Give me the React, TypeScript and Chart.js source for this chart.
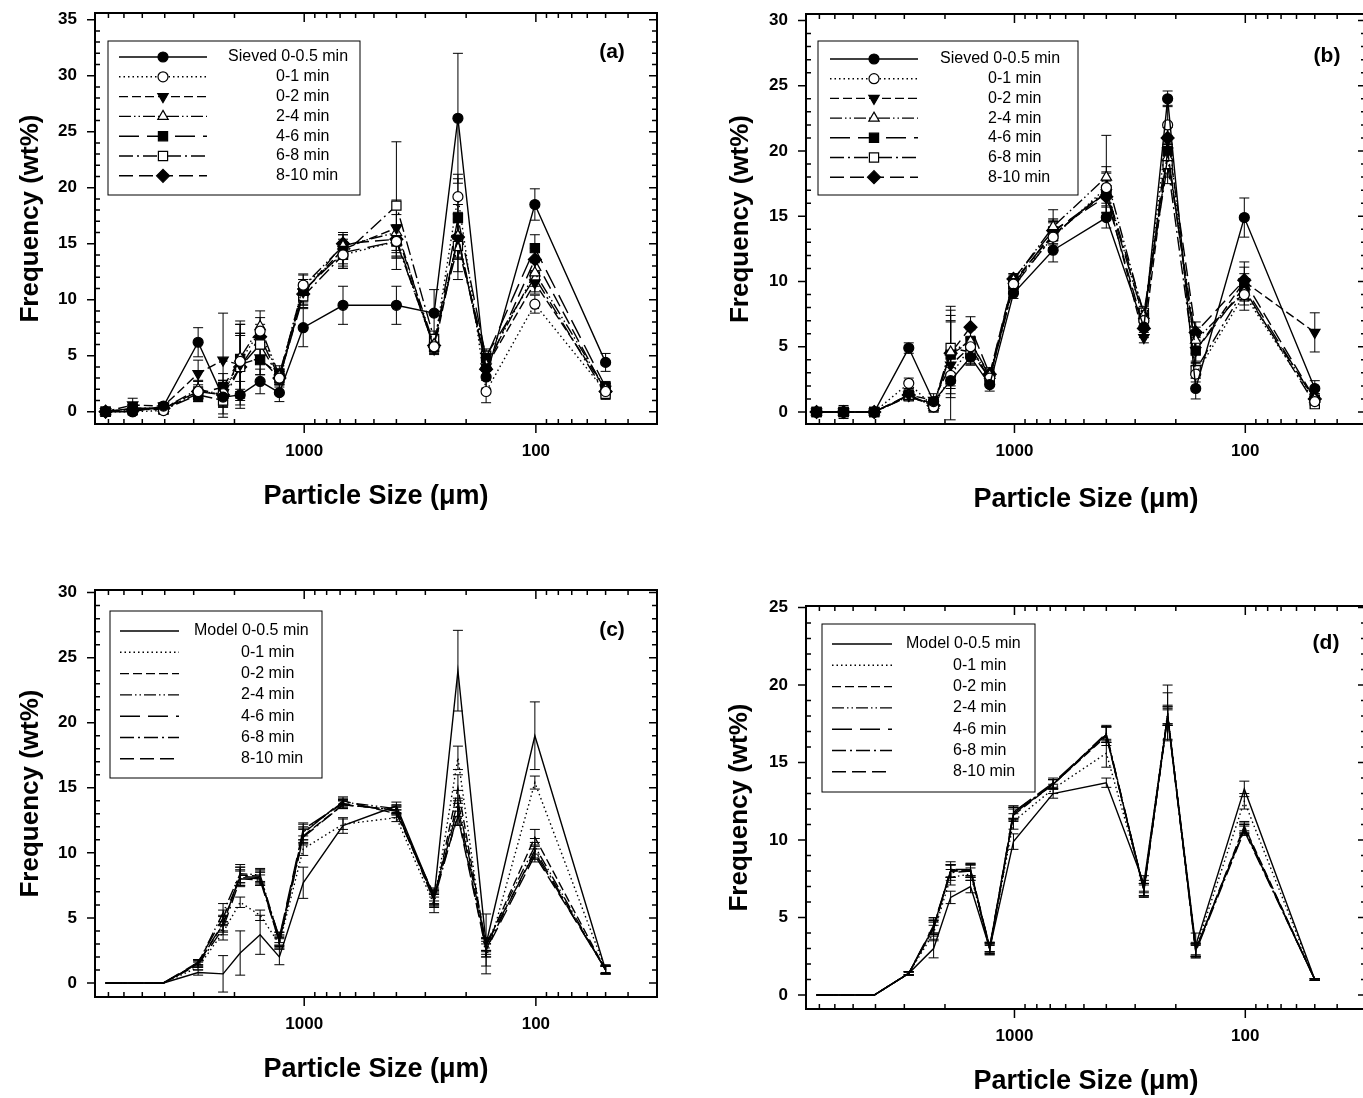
import React, { useEffect, useRef } from 'react';
import { Chart, registerables } from 'chart.js';
import { drawPoint } from 'chart.js/helpers';

Chart.register(...registerables);

const FONT = '"Liberation Sans", Arial, Helvetica, sans-serif';

// Particle sizes (µm) of the sieve fractions, x axis (log, reversed)
const SIZES = [7200, 5500, 4050, 2870, 2240, 1890, 1550, 1280, 1010, 680, 400, 275, 217, 164, 101, 50];
const X_MIN = 30;
const X_MAX = 8000;
const X_TICK_VALUES = [1000, 100];

const SERIES_LABELS = ['0-0.5 min', '0-1 min', '0-2 min', '2-4 min', '4-6 min', '6-8 min', '8-10 min'];

// Panel (a) – sieved, wt%
const A_05 = [0, 0, 0.5, 6.2, 1.3, 1.5, 2.7, 1.7, 7.5, 9.5, 9.5, 8.8, 26.2, 3.1, 18.5, 4.4];
const A_05_E = [0.1, 0.2, 0.3, 1.3, 1.5, 1.2, 1.1, 0.8, 1.7, 1.7, 1.7, 2.1, 5.8, 1.0, 1.4, 0.8];
const A_01 = [0, 0, 0.1, 1.8, 1.6, 4.5, 7.2, 3.0, 11.3, 14.0, 15.2, 5.8, 19.2, 1.8, 9.6, 1.8];
const A_01_E = [0.1, 0.3, 0.3, 0.9, 1.2, 2.5, 1.2, 0.8, 1.0, 1.2, 1.5, 0.6, 2.0, 1.0, 0.8, 0.5];
const A_02 = [0, 0.6, 0.5, 3.4, 4.6, 4.2, 4.8, 3.0, 10.7, 14.5, 16.4, 5.6, 15.5, 4.0, 11.5, 2.0];
const A_02_E = [0.1, 0.6, 0.3, 1.2, 4.2, 3.6, 1.5, 0.6, 1.1, 1.3, 2.5, 0.5, 3.0, 0.8, 1.0, 0.5];
const A_24 = [0, 0.3, 0.3, 2.0, 1.5, 4.8, 7.6, 3.2, 11.2, 14.8, 16.0, 6.0, 15.7, 4.2, 12.4, 2.0];
const A_24_E = [0.1, 0.3, 0.3, 0.8, 1.0, 3.0, 1.4, 0.6, 1.0, 1.0, 1.6, 0.6, 2.0, 0.6, 1.2, 0.5];
const A_46 = [0, 0.3, 0.3, 1.6, 2.2, 4.7, 4.6, 3.4, 10.8, 14.2, 15.2, 5.8, 17.3, 4.8, 14.6, 2.2];
const A_46_E = [0.1, 0.3, 0.3, 0.6, 1.2, 3.4, 1.3, 0.7, 1.0, 1.2, 1.4, 0.5, 3.5, 0.6, 1.2, 0.5];
const A_68 = [0, 0.2, 0.2, 1.5, 1.0, 4.0, 6.0, 3.0, 10.3, 14.0, 18.4, 6.5, 14.8, 5.0, 12.0, 1.6];
const A_68_E = [0.1, 0.3, 0.3, 0.6, 1.5, 2.8, 1.0, 0.6, 1.0, 1.2, 5.7, 0.7, 3.0, 0.6, 1.3, 0.5];
const A_810 = [0, 0.2, 0.3, 1.8, 1.5, 4.0, 6.7, 3.0, 10.5, 15.0, 15.4, 5.9, 15.6, 3.8, 13.6, 1.8];
const A_810_E = [0.1, 0.3, 0.3, 0.6, 1.0, 3.0, 1.1, 0.6, 1.0, 1.0, 1.2, 0.5, 2.0, 0.6, 1.0, 0.4];

// Panel (b) – sieved, wt%
const B_05 = [0, 0, 0, 4.9, 0.8, 2.4, 4.2, 2.1, 9.1, 12.4, 14.9, 6.5, 24.0, 1.8, 14.9, 1.8];
const B_05_E = [0.1, 0.2, 0.2, 0.4, 0.3, 0.6, 0.6, 0.5, 0.4, 0.9, 0.8, 0.8, 0.6, 0.8, 1.5, 0.6];
const B_01 = [0, 0, 0, 2.2, 0.4, 2.8, 5.0, 2.6, 9.8, 13.4, 17.2, 7.0, 22.0, 2.9, 9.0, 0.8];
const B_01_E = [0.1, 0.2, 0.2, 0.4, 0.4, 0.6, 0.8, 0.5, 0.6, 0.8, 1.2, 0.5, 1.5, 0.6, 1.2, 0.4];
const B_02 = [0, 0, 0, 1.3, 0.9, 3.6, 5.0, 2.5, 10.0, 13.6, 16.8, 5.7, 20.0, 4.7, 10.0, 6.1];
const B_02_E = [0.1, 0.5, 0.2, 0.4, 0.5, 4.2, 1.3, 0.5, 0.5, 1.0, 1.0, 0.4, 0.6, 1.0, 1.5, 1.5];
const B_24 = [0, 0, 0, 1.2, 0.5, 4.6, 5.4, 2.8, 10.1, 14.2, 18.0, 7.4, 19.5, 5.5, 9.2, 1.0];
const B_24_E = [0.1, 0.3, 0.2, 0.3, 0.5, 3.5, 1.2, 0.5, 0.5, 1.3, 3.2, 0.5, 1.5, 1.0, 1.0, 0.4];
const B_46 = [0, 0, 0, 1.3, 0.6, 4.4, 5.4, 2.7, 9.8, 13.8, 16.8, 7.2, 20.0, 4.7, 9.6, 0.9];
const B_46_E = [0.1, 0.3, 0.2, 0.3, 0.5, 3.0, 1.0, 0.5, 0.4, 1.0, 1.5, 0.6, 1.2, 0.8, 1.0, 0.4];
const B_68 = [0, 0, 0, 1.2, 0.5, 4.9, 4.6, 2.6, 9.6, 13.5, 17.0, 7.6, 19.0, 3.2, 9.4, 0.6];
const B_68_E = [0.1, 0.2, 0.2, 0.3, 0.4, 2.0, 1.0, 0.4, 0.4, 1.0, 1.8, 0.5, 1.5, 0.6, 0.8, 0.3];
const B_810 = [0, 0, 0, 1.3, 0.5, 4.5, 6.5, 2.9, 10.2, 13.9, 16.5, 6.4, 21.0, 6.1, 10.1, 1.0];
const B_810_E = [0.1, 0.2, 0.2, 0.3, 0.4, 2.5, 0.8, 0.5, 0.4, 0.8, 1.2, 0.5, 0.8, 0.8, 1.0, 0.4];

// Panel (c) – model, wt%
const C_05 = [0, 0, 0, 0.8, 0.7, 2.3, 3.7, 2.0, 7.7, 12.1, 13.6, 6.6, 24.0, 3.0, 19.0, 1.0];
const C_05_E = [0, 0, 0, 0.2, 1.4, 1.7, 1.5, 0.6, 1.2, 0.6, 0.3, 0.5, 3.1, 2.3, 2.6, 0.3];
const C_01 = [0, 0, 0, 1.2, 3.9, 6.2, 5.2, 3.0, 10.3, 12.2, 12.7, 6.0, 17.3, 1.9, 15.4, 1.0];
const C_01_E = [0, 0, 0, 0.2, 0.6, 0.4, 0.4, 0.4, 0.5, 0.4, 0.3, 0.6, 0.9, 0.6, 0.5, 0.3];
const C_02 = [0, 0, 0, 1.5, 4.5, 8.3, 8.2, 3.3, 11.3, 13.7, 13.3, 6.3, 15.0, 2.8, 11.2, 1.0];
const C_02_E = [0, 0, 0, 0.2, 0.6, 0.6, 0.5, 0.4, 0.6, 0.3, 0.3, 0.5, 1.0, 0.6, 0.6, 0.3];
const C_24 = [0, 0, 0, 1.5, 5.4, 8.4, 8.3, 3.4, 11.6, 13.9, 13.4, 6.5, 14.0, 3.0, 10.5, 1.0];
const C_24_E = [0, 0, 0, 0.3, 0.7, 0.7, 0.5, 0.5, 0.6, 0.3, 0.3, 0.5, 0.8, 0.5, 0.6, 0.3];
const C_46 = [0, 0, 0, 1.6, 5.0, 8.1, 8.0, 3.5, 11.8, 13.8, 13.2, 6.6, 13.5, 2.9, 10.0, 1.0];
const C_46_E = [0, 0, 0, 0.2, 0.6, 0.6, 0.5, 0.4, 0.5, 0.3, 0.3, 0.6, 0.7, 0.5, 0.5, 0.3];
const C_68 = [0, 0, 0, 1.4, 4.2, 8.0, 7.9, 3.2, 11.2, 13.7, 13.3, 6.4, 13.0, 2.6, 10.2, 1.0];
const C_68_E = [0, 0, 0, 0.2, 0.5, 0.6, 0.4, 0.4, 0.6, 0.3, 0.3, 0.5, 0.8, 0.6, 0.6, 0.3];
const C_810 = [0, 0, 0, 1.5, 4.6, 8.2, 8.1, 3.1, 11.5, 14.0, 13.0, 6.8, 12.8, 2.5, 9.8, 1.1];
const C_810_E = [0, 0, 0, 0.2, 0.6, 0.7, 0.5, 0.4, 0.5, 0.3, 0.3, 0.5, 0.7, 0.5, 0.5, 0.3];

// Panel (d) – model, wt%
const D_05 = [0, 0, 0, 1.4, 3.0, 6.3, 7.0, 3.0, 9.9, 13.0, 13.7, 7.2, 18.0, 3.2, 13.3, 1.0];
const D_05_E = [0, 0, 0, 0.1, 0.6, 0.4, 0.4, 0.4, 0.5, 0.3, 0.3, 0.5, 1.5, 0.8, 0.5, 0.05];
const D_01 = [0, 0, 0, 1.4, 4.0, 7.6, 7.8, 3.0, 11.2, 13.3, 15.6, 7.0, 18.2, 3.0, 12.5, 1.0];
const D_01_E = [0, 0, 0, 0.1, 0.5, 0.5, 0.4, 0.3, 0.5, 0.3, 0.9, 0.4, 1.8, 0.4, 0.5, 0.05];
const D_02 = [0, 0, 0, 1.4, 4.4, 8.0, 8.0, 3.1, 11.6, 13.6, 16.7, 6.8, 18.0, 2.9, 10.9, 1.0];
const D_02_E = [0, 0, 0, 0.1, 0.5, 0.4, 0.4, 0.3, 0.4, 0.3, 0.6, 0.4, 0.5, 0.4, 0.3, 0.05];
const D_24 = [0, 0, 0, 1.4, 4.3, 8.1, 8.1, 3.0, 11.8, 13.6, 16.8, 6.8, 18.1, 2.9, 10.7, 1.0];
const D_24_E = [0, 0, 0, 0.1, 0.4, 0.5, 0.4, 0.3, 0.4, 0.3, 0.5, 0.4, 0.6, 0.4, 0.3, 0.05];
const D_46 = [0, 0, 0, 1.4, 4.5, 8.0, 8.1, 3.1, 11.8, 13.7, 16.8, 6.7, 18.0, 2.9, 10.8, 1.0];
const D_46_E = [0, 0, 0, 0.1, 0.5, 0.4, 0.4, 0.3, 0.4, 0.3, 0.5, 0.4, 0.6, 0.4, 0.3, 0.05];
const D_68 = [0, 0, 0, 1.4, 4.3, 7.9, 8.0, 2.9, 11.7, 13.6, 16.9, 6.8, 17.9, 2.8, 10.6, 1.0];
const D_68_E = [0, 0, 0, 0.1, 0.5, 0.5, 0.4, 0.3, 0.4, 0.3, 0.5, 0.4, 0.5, 0.4, 0.3, 0.05];
const D_810 = [0, 0, 0, 1.4, 4.4, 8.0, 8.0, 3.0, 11.7, 13.6, 16.8, 6.8, 18.0, 2.9, 10.7, 1.0];
const D_810_E = [0, 0, 0, 0.1, 0.4, 0.4, 0.4, 0.3, 0.4, 0.3, 0.5, 0.4, 0.6, 0.4, 0.3, 0.05];

const STYLES = [
  { dash: [], point: 'circle', filled: true, rot: 0, r: 5 },
  { dash: [1.5, 3], point: 'circle', filled: false, rot: 0, r: 5 },
  { dash: [9, 4], point: 'triangle', filled: true, rot: 180, r: 6 },
  { dash: [12, 3, 1.5, 3, 1.5, 3], point: 'triangle', filled: false, rot: 0, r: 6 },
  { dash: [20, 8], point: 'rect', filled: true, rot: 0, r: 6.5 },
  { dash: [14, 4, 2, 4], point: 'rect', filled: false, rot: 0, r: 6.5 },
  { dash: [14, 6], point: 'rectRot', filled: true, rot: 0, r: 6.5 },
];

const PANELS = [
  {
    tag: '(a)', left: 0, top: 0, w: 680, h: 545,
    area: { l: 95, t: 13, r: 657, b: 424 },
    yMin: -1.1, yMax: 35.6, yTicks: [0, 5, 10, 15, 20, 25, 30, 35],
    values: [A_05, A_01, A_02, A_24, A_46, A_68, A_810],
    errors: [A_05_E, A_01_E, A_02_E, A_24_E, A_46_E, A_68_E, A_810_E],
    markers: true, prefix: 'Sieved ',
    xLabelPad: 17, xTitlePad: 32, yLabelPad: 18, yTitlePad: 15,
    labelPos: [612, 52],
    legend: { box: [108, 41, 360, 195], y0: 57, step: 19.8, s0: 119, s1: 207, mx: 163, tx: 276, fx: 228 },
  },
  {
    tag: '(b)', left: 711, top: 0, w: 680, h: 545,
    area: { l: 95, t: 14, r: 655, b: 424 },
    yMin: -0.92, yMax: 30.5, yTicks: [0, 5, 10, 15, 20, 25, 30],
    values: [B_05, B_01, B_02, B_24, B_46, B_68, B_810],
    errors: [B_05_E, B_01_E, B_02_E, B_24_E, B_46_E, B_68_E, B_810_E],
    markers: true, prefix: 'Sieved ',
    xLabelPad: 17, xTitlePad: 29, yLabelPad: 18, yTitlePad: 14,
    labelPos: [616, 56],
    legend: { box: [107, 41, 367, 195], y0: 59, step: 19.7, s0: 119, s1: 207, mx: 163, tx: 277, fx: 229 },
  },
  {
    tag: '(c)', left: 0, top: 570, w: 680, h: 528,
    area: { l: 95, t: 20, r: 657, b: 427 },
    yMin: -1.08, yMax: 30.2, yTicks: [0, 5, 10, 15, 20, 25, 30],
    values: [C_05, C_01, C_02, C_24, C_46, C_68, C_810],
    errors: [C_05_E, C_01_E, C_02_E, C_24_E, C_46_E, C_68_E, C_810_E],
    markers: false, prefix: 'Model ',
    xLabelPad: 17, xTitlePad: 12, yLabelPad: 18, yTitlePad: 15,
    labelPos: [612, 60],
    legend: { box: [110, 41, 322, 208], y0: 61, step: 21.3, s0: 120, s1: 179, mx: 150, tx: 241, fx: 194 },
  },
  {
    tag: '(d)', left: 711, top: 580, w: 680, h: 518,
    area: { l: 95, t: 26, r: 655, b: 429 },
    yMin: -0.9, yMax: 25.1, yTicks: [0, 5, 10, 15, 20, 25],
    values: [D_05, D_01, D_02, D_24, D_46, D_68, D_810],
    errors: [D_05_E, D_01_E, D_02_E, D_24_E, D_46_E, D_68_E, D_810_E],
    markers: false, prefix: 'Model ',
    xLabelPad: 17, xTitlePad: 0, yLabelPad: 18, yTitlePad: 13,
    labelPos: [615, 63],
    legend: { box: [111, 44, 324, 212], y0: 64, step: 21.3, s0: 121, s1: 181, mx: 151, tx: 242, fx: 195 },
  },
];

const CAP = 5;

function makePaperPlugin(p: any) {
  return {
    id: 'paper' + p.tag,
    beforeDatasetsDraw(chart: any) {
      const { ctx } = chart;
      const xs = chart.scales.x;
      const ys = chart.scales.y;
      ctx.save();
      ctx.strokeStyle = '#000';
      ctx.lineWidth = 1;
      ctx.setLineDash([]);
      p.errors.forEach((errs: number[], i: number) => {
        const vals = p.values[i];
        errs.forEach((e: number, j: number) => {
          if (!e) return;
          const x = xs.getPixelForValue(SIZES[j]);
          const y1 = ys.getPixelForValue(vals[j] + e);
          const y2 = ys.getPixelForValue(vals[j] - e);
          ctx.beginPath();
          ctx.moveTo(x, y1); ctx.lineTo(x, y2);
          ctx.moveTo(x - CAP, y1); ctx.lineTo(x + CAP, y1);
          ctx.moveTo(x - CAP, y2); ctx.lineTo(x + CAP, y2);
          ctx.stroke();
        });
      });
      ctx.restore();
    },
    afterDraw(chart: any) {
      const { ctx, chartArea: a } = chart;
      const xs = chart.scales.x;
      const ys = chart.scales.y;
      ctx.save();
      ctx.setLineDash([]);
      ctx.strokeStyle = '#000';
      ctx.fillStyle = '#000';
      // frame
      ctx.lineWidth = 2;
      ctx.strokeRect(a.left, a.top, a.right - a.left, a.bottom - a.top);
      // ticks
      ctx.lineWidth = 1.5;
      ctx.beginPath();
      for (const dec of [10, 100, 1000]) {
        for (let m = 2; m <= 9; m++) {
          const v = m * dec;
          if (v < X_MIN || v > X_MAX) continue;
          const px = xs.getPixelForValue(v);
          ctx.moveTo(px, a.bottom); ctx.lineTo(px, a.bottom - 5);
          ctx.moveTo(px, a.top); ctx.lineTo(px, a.top + 5);
        }
      }
      for (const v of X_TICK_VALUES) {
        const px = xs.getPixelForValue(v);
        ctx.moveTo(px, a.bottom); ctx.lineTo(px, a.bottom + 9);
        ctx.moveTo(px, a.top); ctx.lineTo(px, a.top + 9);
      }
      for (let v = 0; v <= ys.max; v++) {
        const py = ys.getPixelForValue(v);
        if (v % 5 === 0) {
          ctx.moveTo(a.left - 8, py); ctx.lineTo(a.left, py);
          ctx.moveTo(a.right, py); ctx.lineTo(a.right - 8, py);
        } else {
          ctx.moveTo(a.left, py); ctx.lineTo(a.left + 5, py);
          ctx.moveTo(a.right, py); ctx.lineTo(a.right - 5, py);
        }
      }
      ctx.stroke();

      // legend
      const L = p.legend;
      ctx.lineWidth = 1;
      ctx.strokeRect(L.box[0], L.box[1], L.box[2] - L.box[0], L.box[3] - L.box[1]);
      ctx.font = `16px ${FONT}`;
      ctx.textBaseline = 'middle';
      ctx.textAlign = 'left';
      SERIES_LABELS.forEach((lab, i) => {
        const st = STYLES[i];
        const y = L.y0 + i * L.step;
        ctx.setLineDash(st.dash);
        ctx.lineWidth = 1.4;
        ctx.strokeStyle = '#000';
        ctx.beginPath();
        ctx.moveTo(L.s0, y); ctx.lineTo(L.s1, y);
        ctx.stroke();
        ctx.setLineDash([]);
        if (p.markers) {
          ctx.fillStyle = st.filled ? '#000' : '#fff';
          ctx.lineWidth = 1.2;
          drawPoint(ctx, { pointStyle: st.point, radius: st.r, rotation: st.rot, borderWidth: 1.2 } as any, L.mx, y);
        }
        ctx.fillStyle = '#000';
        if (i === 0) ctx.fillText(p.prefix + lab, L.fx, y);
        else ctx.fillText(lab, L.tx, y);
      });

      // panel tag
      ctx.font = `bold 21px ${FONT}`;
      ctx.textAlign = 'center';
      ctx.textBaseline = 'middle';
      ctx.fillText(p.tag, p.labelPos[0], p.labelPos[1]);
      ctx.restore();
    },
  };
}

function makeConfig(p: any): any {
  const datasets = p.values.map((vals: number[], i: number) => {
    const st = STYLES[i];
    return {
      label: SERIES_LABELS[i],
      data: SIZES.map((x, j) => ({ x, y: vals[j] })),
      borderColor: '#000',
      borderWidth: 1.4,
      borderDash: st.dash,
      tension: 0,
      fill: false,
      pointRadius: p.markers ? st.r : 0,
      pointHoverRadius: p.markers ? st.r : 0,
      pointStyle: st.point,
      pointRotation: st.rot,
      pointBackgroundColor: st.filled ? '#000' : '#fff',
      pointBorderColor: '#000',
      pointBorderWidth: 1.2,
    };
  });
  const tickFont = { size: 17, weight: 'bold', family: FONT };
  return {
    type: 'line',
    data: { datasets },
    options: {
      animation: false,
      responsive: false,
      events: [],
      layout: { padding: { left: 0, top: p.area.t, right: p.w - p.area.r, bottom: 0 } },
      plugins: { legend: { display: false }, tooltip: { enabled: false } },
      scales: {
        x: {
          type: 'logarithmic',
          reverse: true,
          min: X_MIN,
          max: X_MAX,
          grid: { display: false, drawTicks: false },
          border: { display: false },
          ticks: {
            color: '#000', font: tickFont, padding: p.xLabelPad, autoSkip: false,
            maxRotation: 0, minRotation: 0,
            callback: (v: any) => String(v),
          },
          afterBuildTicks: (s: any) => { s.ticks = X_TICK_VALUES.map((v) => ({ value: v })); },
          afterFit: (s: any) => { s.height = p.h - p.area.b; s.paddingLeft = 0; s.paddingRight = 0; },
          title: {
            display: true, text: 'Particle Size (\u03bcm)', color: '#000',
            font: { size: 27, weight: 'bold', family: FONT },
            padding: { top: 0, bottom: p.xTitlePad },
          },
        },
        y: {
          type: 'linear',
          min: p.yMin,
          max: p.yMax,
          grid: { display: false, drawTicks: false },
          border: { display: false },
          ticks: { color: '#000', font: tickFont, padding: p.yLabelPad, callback: (v: any) => String(v) },
          afterBuildTicks: (s: any) => { s.ticks = p.yTicks.map((v: number) => ({ value: v })); },
          afterFit: (s: any) => { s.width = p.area.l; s.paddingTop = 0; s.paddingBottom = 0; },
          title: {
            display: true, text: 'Frequency (wt%)', color: '#000',
            font: { size: 26, weight: 'bold', family: FONT },
            padding: { top: p.yTitlePad, bottom: 0 },
          },
        },
      },
    },
    plugins: [makePaperPlugin(p)],
  };
}

function Panel({ p }: { p: any }) {
  const ref = useRef<HTMLCanvasElement | null>(null);
  useEffect(() => {
    if (!ref.current) return;
    const chart = new Chart(ref.current, makeConfig(p));
    return () => chart.destroy();
  }, [p]);
  return (
    <canvas
      ref={ref}
      width={p.w}
      height={p.h}
      style={{ position: 'absolute', left: p.left, top: p.top, width: p.w, height: p.h }}
    />
  );
}

export default function App() {
  return (
    <div
      style={{
        position: 'fixed', left: 0, top: 0, width: 1363, height: 1098,
        overflow: 'hidden', background: '#fff',
      }}
    >
      {PANELS.map((p) => (
        <Panel key={p.tag} p={p} />
      ))}
    </div>
  );
}
